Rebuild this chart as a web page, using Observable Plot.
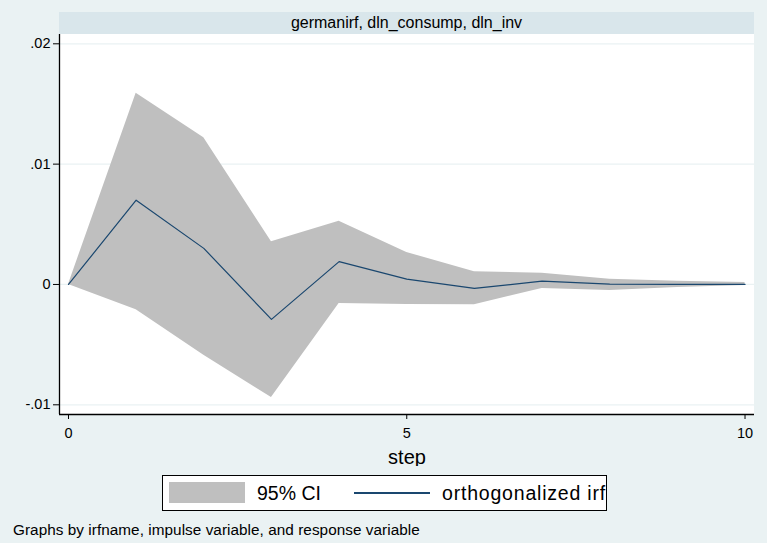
<!DOCTYPE html>
<html>
<head>
<meta charset="utf-8">
<script src="https://cdn.jsdelivr.net/npm/d3@7"></script>
<script src="https://cdn.jsdelivr.net/npm/@observablehq/plot@0.6"></script>
<style>
  html, body { margin: 0; padding: 0; background: #EAF2F3; }
  body { font-family: Arial, "Liberation Sans", sans-serif; }
  #wrap { position: relative; width: 767px; height: 543px; overflow: hidden; background: #EAF2F3; }
  #strip { position: absolute; left: 59px; top: 12px; width: 695px; height: 22px; background: #D9E6EB;
           font-size: 16px; line-height: 22px; text-align: center; color: #000; }
  #chart { position: absolute; left: 0; top: 34px; }
  #legend { position: absolute; left: 162px; top: 475px; width: 443px; height: 34px; background: #fff;
            border: 1px solid #000; }
  #legend .sw { position: absolute; left: 6px; top: 6px; width: 76px; height: 21px; background: #BFBFBF; }
  #legend .t1 { position: absolute; left: 94px; top: 5px; font-size: 19.5px; line-height: 24px; }
  #legend .ln { position: absolute; left: 191px; top: 16px; width: 76px; height: 2px; background: #1A476F; }
  #legend .t2 { position: absolute; left: 279px; top: 5px; font-size: 19.5px; line-height: 24px; letter-spacing: 0.8px; }
  #caption { position: absolute; left: 13px; top: 521px; font-size: 15.3px; line-height: 18px; letter-spacing: 0.05px; }
</style>
</head>
<body>
<div id="wrap">
  <div id="strip"></div>
  <div id="chart"></div>
  <div id="legend"><div class="sw"></div><div class="t1"></div><div class="ln"></div><div class="t2"></div></div>
  <div id="caption"></div>
</div>
<script>
// ---- data ----
const panelTitle = "germanirf, dln_consump, dln_inv";
const steps = [0, 1, 2, 3, 4, 5, 6, 7, 8, 9, 10];
const irf   = [0, 0.0070, 0.0030, -0.0029, 0.0019, 0.00044, -0.00033, 0.00027, 0.00003, 0.00001, 0.0];
const upper = [0, 0.0159, 0.0122, 0.00354, 0.00526, 0.00266, 0.00105, 0.00094, 0.00044, 0.00027, 0.00017];
const lower = [0, -0.0021, -0.00588, -0.0094, -0.00158, -0.00166, -0.00168, -0.00033, -0.0005, -0.00025, -0.00008];
const xTicks = [0, 5, 10];
const yTicks = [-0.01, 0, 0.01, 0.02];
const yTickLabels = ["-.01", "0", ".01", ".02"];
const xLabel = "step";
const legendLabels = ["95% CI", "orthogonalized irf"];
const caption = "Graphs by irfname, impulse variable, and response variable";

const xDomain = [-0.133, 10.14];
const yDomain = [-0.010806, 0.020773];

const rows = steps.map((s, i) => ({step: s, irf: irf[i], lo: lower[i], hi: upper[i]}));

document.getElementById("strip").textContent = panelTitle;
document.querySelector("#legend .t1").textContent = legendLabels[0];
document.querySelector("#legend .t2").textContent = legendLabels[1];
document.getElementById("caption").textContent = caption;

const chart = Plot.plot({
  width: 767,
  height: 432,
  marginLeft: 59,
  marginRight: 13,
  marginTop: 0,
  marginBottom: 52,
  style: {background: "transparent", fontFamily: "Arial, 'Liberation Sans', sans-serif", fontSize: "14.5px", color: "#000"},
  x: {domain: xDomain, ticks: xTicks},
  y: {domain: yDomain, ticks: yTicks},
  marks: [
    Plot.rect([0], {x1: xDomain[0], x2: xDomain[1], y1: yDomain[0], y2: yDomain[1], fill: "#fff"}),
    Plot.gridY(yTicks, {stroke: "#EAF2F3", strokeOpacity: 1, strokeWidth: 1.3}),
    Plot.areaY(rows, {x: "step", y1: "lo", y2: "hi", fill: "#BFBFBF", fillOpacity: 1}),
    Plot.lineY(rows, {x: "step", y: "irf", stroke: "#1A476F", strokeWidth: 1.2}),
    Plot.ruleX([xDomain[0]], {stroke: "#000", strokeWidth: 1.3}),
    Plot.ruleY([yDomain[0]], {stroke: "#000", strokeWidth: 1.3}),
    Plot.axisY(yTicks, {tickSize: 6, tickPadding: 3, tickFormat: (d, i) => yTickLabels[yTicks.indexOf(d)], label: null, fontSize: 14.5}),
    Plot.axisX(xTicks, {tickSize: 5, tickPadding: 8, tickFormat: d => String(d), label: xLabel, labelAnchor: "center", labelArrow: "none", fontSize: 14.5}),
  ]
});
// enlarge axis label
chart.querySelectorAll("g[aria-label='x-axis label'] text").forEach(t => t.setAttribute("font-size", "20px"));
document.getElementById("chart").appendChild(chart);
</script>
</body>
</html>
